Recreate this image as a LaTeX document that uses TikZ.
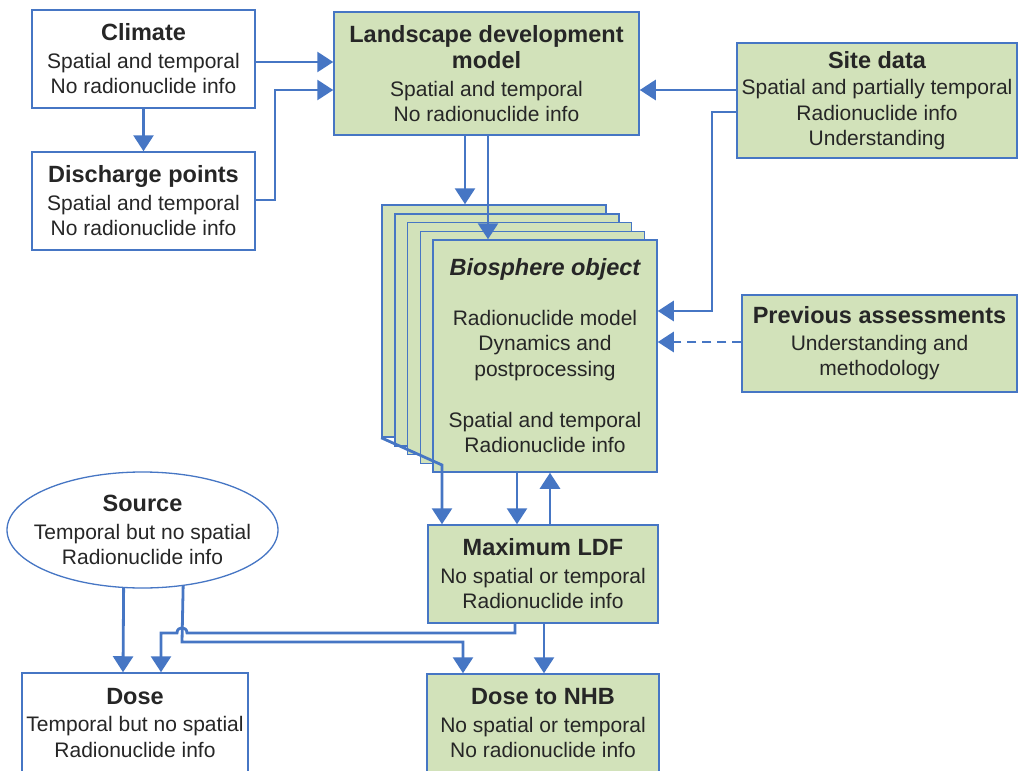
\documentclass[tikz,border=0pt]{standalone}
\usepackage{fontspec}
\setmainfont{Liberation Sans}
\usetikzlibrary{arrows.meta,shapes.geometric}
\definecolor{boxgreen}{RGB}{210,226,186}
\definecolor{lineblue}{RGB}{70,118,196}
\definecolor{txtcol}{RGB}{38,38,38}
\newcommand{\bodyf}{\fontsize{21}{25.5}\selectfont}
\newcommand{\titf}{\fontsize{23.5}{27}\selectfont\bfseries}
\begin{document}
\begin{tikzpicture}[x=1pt,y=-1pt,
  box/.style={draw=lineblue, line width=1.5pt, text=txtcol, align=center, font=\bodyf, inner sep=0pt},
  gbox/.style={box, fill=boxgreen},
  wbox/.style={box, fill=white},
  arr/.style={draw=lineblue, line width=2.8pt, -{Triangle[length=16pt,width=20pt]}},
  txtnode/.style={text=txtcol, align=center, font=\bodyf, inner sep=0pt},
]
\useasboundingbox (0,0) rectangle (1018,771);
% helper levels and columns
\coordinate (yA) at (0,62);
\coordinate (yB) at (0,90);
\coordinate (yC) at (0,200);
\coordinate (yD) at (0,112);
\coordinate (yE) at (0,311);
\coordinate (yF) at (0,342);
\coordinate (yUp) at (0,633);
\coordinate (yLow) at (0,642);
\coordinate (xDis) at (275,0);
\coordinate (xSite) at (712,0);
\coordinate (xL1) at (465,0);
\coordinate (xL2) at (488,0);
\coordinate (xB1) at (517,0);
\coordinate (xB2) at (550,0);
\coordinate (xS2) at (182,0);
\coordinate (xM1) at (515,0);
\coordinate (xM2) at (544,0);
\coordinate (xD1) at (123,0);
\coordinate (xD2) at (161,0);
\coordinate (xN1) at (463,0);
\coordinate (bend) at (442,465);
\coordinate (hopR) at (187,633);
\coordinate (hopL) at (177,633);

% boxes
\node[wbox, minimum width=223pt, minimum height=98pt] (climate) at (143.5,59)
  {{\titf Climate}\\[2pt]Spatial and temporal\\No radionuclide info};
\node[wbox, minimum width=223pt, minimum height=98pt] (discharge) at (143.5,201)
  {{\titf Discharge points}\\[2pt]Spatial and temporal\\No radionuclide info};
\node[gbox, minimum width=305pt, minimum height=123pt] (landscape) at (486.5,73.5)
  {{\titf Landscape development}\\[1pt]{\titf model}\\[2pt]Spatial and temporal\\No radionuclide info};
\node[gbox, minimum width=280pt, minimum height=115pt] (site) at (877,100.5)
  {{\titf Site data}\\[1pt]Spatial and partially temporal\\Radionuclide info\\Understanding};
\node[gbox, minimum width=275pt, minimum height=97pt] (prev) at (879.5,343.5)
  {{\titf Previous assessments}\\[1pt]Understanding and\\methodology};

\foreach \i in {0,1,2,3}
  \node[gbox, minimum width=224pt, minimum height=232pt] (bio\i) at ({494+12.75*\i},{321+8.75*\i}) {};
\node[gbox, minimum width=224pt, minimum height=232pt] (bio) at (545,356)
  {{\titf\itshape Biosphere object}\\[24pt]Radionuclide model\\Dynamics and\\postprocessing\\[25.5pt]Spatial and temporal\\Radionuclide info};

\node[gbox, minimum width=230pt, minimum height=98pt] (maxldf) at (543,574)
  {{\titf Maximum LDF}\\[2pt]No spatial or temporal\\Radionuclide info};
\node[gbox, minimum width=232pt, minimum height=99pt] (nhb) at (543,723.5)
  {{\titf Dose to NHB}\\[2pt]No spatial or temporal\\No radionuclide info};
\node[wbox, minimum width=226pt, minimum height=100pt] (dose) at (135,723)
  {{\titf Dose}\\[2pt]Temporal but no spatial\\Radionuclide info};

\node[ellipse, draw=lineblue, line width=1.3pt, fill=white, minimum width=271pt, minimum height=116pt, inner sep=0pt] (source) at (142.5,530) {};
\node[txtnode] (sourcetext) at (source.center)
  {{\titf Source}\\[2pt]Temporal but no spatial\\Radionuclide info};

% connectors
\draw[arr] (climate.east |- yA) -- (landscape.west |- yA);
\draw[arr] (discharge.east |- yC) -- (xDis |- yC) -- (xDis |- yB) -- (landscape.west |- yB);
\draw[arr] (climate.south) -- (discharge.north);
\draw[arr] (site.west |- yB) -- (landscape.east |- yB);
\draw[arr] (site.west |- yD) -- (xSite |- yD) -- (xSite |- yE) -- (bio.east |- yE);
\draw[arr, dash pattern=on 9pt off 6pt] (prev.west |- yF) -- (bio.east |- yF);
\draw[arr] (xL1 |- landscape.south) -- (xL1 |- bio0.north);
\draw[arr] (xL2 |- landscape.south) -- (xL2 |- bio.north);
\draw[arr] (bio0.south west) -- (bend) -- (bend |- maxldf.north);
\draw[arr] (xB1 |- bio.south) -- (xB1 |- maxldf.north);
\draw[arr] (xB2 |- maxldf.north) -- (xB2 |- bio.south);
\draw[arr] (source.-108.8) -- (xD1 |- dose.north);
\draw[arr] (source.-54.6) -- (xS2 |- yLow) -- (xN1 |- yLow) -- (xN1 |- nhb.north);
\draw[arr] (xM1 |- maxldf.south) -- (xM1 |- yUp) -- (hopR) .. controls +(0,-7) and +(0,-7) .. (hopL) -- (xD2 |- yUp) -- (xD2 |- dose.north);
\draw[arr] (xM2 |- maxldf.south) -- (xM2 |- nhb.north);
\end{tikzpicture}
\end{document}
